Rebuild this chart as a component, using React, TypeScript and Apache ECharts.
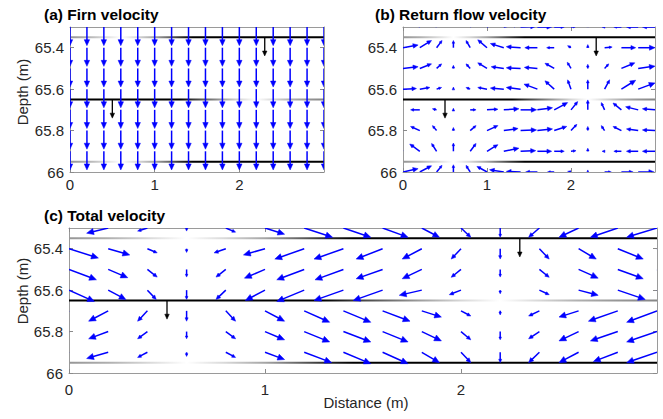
import React, { useEffect, useRef } from "react";
import * as echarts from "echarts";

// ---------- data ----------
const COLS = [0, 0.2, 0.4, 0.6, 0.8, 1.0, 1.2, 1.4, 1.6, 1.8, 2.0, 2.2, 2.4, 2.6, 2.8, 3.0];
const X_TICKS = [0, 1, 2];
const Y_TICKS = [65.4, 65.6, 65.8, 66];

// (a) firn velocity: uniform downward, per row
const DEPTHS_A = [65.3, 65.4, 65.5, 65.6, 65.7, 65.8, 65.9, 66.0];
const FIRN_W = [0.09, 0.09, 0.09, 0.09, 0.09, 0.09, 0.09, 0.09];

// (b) return flow velocity (u: +right, w: +deeper)
const DEPTHS_B = [65.3, 65.4, 65.5, 65.6, 65.7, 65.8, 65.9, 66.0];
const B_U_653 = [-0.15, -0.12, -0.06, 0, 0.07, 0.13, 0.18, 0.18, 0.17, 0.12, 0.06, 0, -0.03, -0.09, -0.14, -0.15];
const B_W_653 = [-0.03, -0.035, -0.038, -0.04, -0.038, -0.032, -0.015, -0.003, 0, 0, -0.003, -0.015, 0, 0, 0, 0];
const B_U_654 = [0.18, 0.14, 0.065, 0, -0.05, -0.11, -0.16, -0.17, -0.15, -0.09, -0.04, 0, 0.09, 0.17, 0.2, 0.2];
const B_W_654 = [-0.013, -0.035, -0.035, -0.035, -0.035, -0.038, -0.02, -0.005, 0, 0, -0.01, -0.015, -0.003, 0, 0, 0];
const B_U_655 = [0.18, 0.14, 0.06, 0, -0.05, -0.11, -0.15, -0.17, -0.155, -0.11, -0.045, 0, 0.05, 0.16, 0.2, 0.2];
const B_W_655 = [-0.008, -0.022, -0.022, -0.015, -0.022, -0.027, -0.008, -0.003, -0.005, -0.025, -0.03, -0.02, -0.022, -0.027, -0.011, -0.005];
const B_U_656 = [0.16, 0.12, 0.06, 0, -0.05, -0.11, -0.16, -0.17, -0.16, -0.11, -0.04, 0, 0.06, 0.17, 0.2, 0.2];
const B_W_656 = [-0.003, -0.008, -0.008, -0.01, -0.008, -0.008, -0.005, -0.008, -0.024, -0.04, -0.045, -0.045, -0.045, -0.043, -0.03, -0.01];
const B_U_657 = [-0.16, -0.11, -0.05, 0, 0.07, 0.13, 0.18, 0.19, 0.18, 0.16, 0.08, 0, -0.04, -0.1, -0.15, -0.15];
const B_W_657 = [-0.005, 0, -0.005, -0.008, 0, -0.003, -0.005, 0, -0.01, -0.035, -0.04, -0.048, -0.035, -0.033, -0.015, -0.005];
const B_U_658 = [-0.16, -0.11, -0.05, 0, 0.07, 0.13, 0.17, 0.19, 0.18, 0.15, 0.07, 0, -0.04, -0.1, -0.14, -0.15];
const B_W_658 = [-0.01, -0.02, -0.024, -0.015, -0.024, -0.024, -0.01, -0.003, -0.008, -0.02, -0.03, -0.02, -0.024, -0.02, -0.008, -0.003];
const B_U_659 = [-0.15, -0.12, -0.06, 0, 0.07, 0.13, 0.18, 0.18, 0.17, 0.12, 0.06, 0, -0.03, -0.09, -0.14, -0.15];
const B_W_659 = [-0.03, -0.035, -0.038, -0.04, -0.038, -0.032, -0.015, -0.003, 0, 0, -0.003, -0.015, 0, 0, 0, 0];
const B_U_660 = [0.18, 0.14, 0.065, 0, -0.05, -0.12, -0.17, -0.17, -0.14, -0.08, -0.04, 0, 0.08, 0.14, 0.19, 0.2];
const B_W_660 = [-0.016, -0.03, -0.032, -0.035, -0.032, -0.027, -0.011, -0.003, 0, 0, -0.003, -0.01, 0, 0, 0, 0];
const B_U = [B_U_653, B_U_654, B_U_655, B_U_656, B_U_657, B_U_658, B_U_659, B_U_660];
const B_W = [B_W_653, B_W_654, B_W_655, B_W_656, B_W_657, B_W_658, B_W_659, B_W_660];

// (c) total velocity
const DEPTHS_C = [65.3, 65.4, 65.5, 65.6, 65.7, 65.8, 65.9];
const C_U_653 = [-0.15, -0.11, -0.05, 0, 0.05, 0.1, 0.145, 0.14, 0.13, 0.09, 0.05, 0, -0.055, -0.1, -0.14, -0.155];
const C_W_653 = [0.045, 0.025, 0.015, 0.015, 0.02, 0.03, 0.045, 0.045, 0.045, 0.045, 0.045, 0.045, 0.045, 0.045, 0.045, 0.045];
const C_U_654 = [0.15, 0.11, 0.05, 0, -0.06, -0.11, -0.15, -0.15, -0.135, -0.1, -0.05, 0, 0.05, 0.09, 0.13, 0.15];
const C_W_654 = [0.045, 0.03, 0.02, 0.018, 0.02, 0.03, 0.05, 0.05, 0.05, 0.05, 0.05, 0.05, 0.05, 0.05, 0.05, 0.05];
const C_U_655 = [0.14, 0.1, 0.05, 0, -0.05, -0.105, -0.14, -0.145, -0.135, -0.1, -0.05, 0, 0.05, 0.1, 0.13, 0.145];
const C_W_655 = [0.05, 0.04, 0.037, 0.037, 0.037, 0.042, 0.05, 0.05, 0.045, 0.045, 0.038, 0.037, 0.038, 0.042, 0.045, 0.05];
const C_U_656 = [0.13, 0.09, 0.045, 0, -0.05, -0.1, -0.14, -0.15, -0.15, -0.115, -0.06, 0, 0.05, 0.1, 0.14, 0.15];
const C_W_656 = [0.055, 0.045, 0.045, 0.045, 0.045, 0.05, 0.055, 0.05, 0.05, 0.025, 0.022, 0.018, 0.022, 0.025, 0.045, 0.05];
const C_U_657 = [-0.13, -0.1, -0.05, 0, 0.05, 0.1, 0.13, 0.14, 0.14, 0.1, 0.05, 0, -0.055, -0.1, -0.15, -0.155];
const C_W_657 = [0.055, 0.05, 0.05, 0.05, 0.05, 0.05, 0.055, 0.055, 0.05, 0.03, 0.025, 0.02, 0.025, 0.03, 0.05, 0.055];
const C_U_658 = [-0.13, -0.1, -0.05, 0, 0.05, 0.1, 0.13, 0.14, 0.13, 0.1, 0.05, 0, -0.055, -0.1, -0.14, -0.155];
const C_W_658 = [0.045, 0.035, 0.035, 0.035, 0.035, 0.04, 0.05, 0.05, 0.05, 0.045, 0.04, 0.04, 0.035, 0.045, 0.045, 0.05];
const C_U_659 = [-0.14, -0.11, -0.05, 0, 0.05, 0.1, 0.14, 0.14, 0.13, 0.09, 0.05, 0, -0.055, -0.1, -0.125, -0.155];
const C_W_659 = [0.045, 0.03, 0.025, 0.02, 0.025, 0.035, 0.05, 0.055, 0.055, 0.05, 0.05, 0.05, 0.05, 0.05, 0.045, 0.05];
const C_U = [C_U_653, C_U_654, C_U_655, C_U_656, C_U_657, C_U_658, C_U_659];
const C_W = [C_W_653, C_W_654, C_W_655, C_W_656, C_W_657, C_W_658, C_W_659];

// layer boundaries and their shading along distance ([x, grey level])
const LAYER_DEPTHS = [65.35, 65.65, 65.95];
const SHADE_OUTER = [[0, 150], [0.2, 175], [0.4, 215], [0.6, 255], [0.8, 215], [1.0, 165], [1.15, 110], [1.3, 50], [1.45, 0], [3, 0]];
const SHADE_MIDDLE = [[0, 0], [1.3, 0], [1.45, 55], [1.6, 100], [1.8, 160], [2.0, 215], [2.2, 255], [2.4, 215], [2.6, 175], [2.8, 150], [3.0, 135]];
const LAYER_SHADES = [SHADE_OUTER, SHADE_MIDDLE, SHADE_OUTER];

// black marker arrows [x, depth, u, w]
const MARKERS = [[2.3, 65.35, 0, 0.09], [0.5, 65.65, 0, 0.09]];

// ---------- helpers ----------
const FONT = "'Liberation Sans', Arial, Helvetica, sans-serif";
const TICK_COLOR = "#262626";

function buildField(depths: number[], U: number[][] | null, W: number[][] | number[]) {
  const out: number[][] = [];
  depths.forEach((d, r) => {
    COLS.forEach((x, c) => {
      const u = U ? U[r][c] : 0;
      const w = Array.isArray((W as any)[r]) ? (W as number[][])[r][c] : (W as number[])[r];
      out.push([x, d, u, w]);
    });
  });
  return out;
}

function arrowRender(color: string, lw: number, maxHead: number) {
  return (params: any, api: any) => {
    const x = api.value(0), y = api.value(1), u = api.value(2), w = api.value(3);
    const p0 = api.coord([x, y]);
    const p1 = api.coord([x + u, y + w]);
    const dx = p1[0] - p0[0], dy = p1[1] - p0[1];
    const L = Math.hypot(dx, dy);
    if (L < 0.3) return null;
    const ux = dx / L, uy = dy / L;
    const hl = Math.min(maxHead, Math.max(2.8, 0.33 * L));
    const hw = hl * 0.45;
    const bx = p1[0] - ux * hl, by = p1[1] - uy * hl;
    const lineEnd = L > hl ? [bx + ux * hl * 0.4, by + uy * hl * 0.4] : [p0[0], p0[1]];
    return {
      type: "group",
      children: [
        {
          type: "line",
          shape: { x1: p0[0], y1: p0[1], x2: lineEnd[0], y2: lineEnd[1] },
          style: { stroke: color, lineWidth: lw },
        },
        {
          type: "polygon",
          shape: { points: [[p1[0], p1[1]], [bx - uy * hw, by + ux * hw], [bx + uy * hw, by - ux * hw]] },
          style: { fill: color, stroke: color, lineWidth: 0.5 },
        },
      ],
    };
  };
}

function layerRender(params: any, api: any) {
  const y = api.value(1);
  const idx = api.value(2);
  const p0 = api.coord([0, y]);
  const p1 = api.coord([3, y]);
  const stops = LAYER_SHADES[idx].map(([x, g]) => ({ offset: x / 3, color: `rgb(${g},${g},${g})` }));
  return {
    type: "rect",
    shape: { x: p0[0], y: p0[1] - 1, width: p1[0] - p0[0], height: 2 },
    style: { fill: new echarts.graphic.LinearGradient(0, 0, 1, 0, stops) },
  };
}

const GRIDS = [
  { left: 70, top: 27, width: 254, height: 145, xLabelMargin: 5 },
  { left: 403, top: 27, width: 252, height: 145, xLabelMargin: 5 },
  { left: 69, top: 228, width: 588, height: 145, xLabelMargin: 9 },
];

export default function App() {
  const ref = useRef<HTMLDivElement>(null);
  useEffect(() => {
    document.body.style.margin = "0";
    if (!ref.current) return;
    const chart = echarts.init(ref.current, undefined, { renderer: "svg" });

    const xAxes: any[] = [];
    const yAxes: any[] = [];
    GRIDS.forEach((g, i) => {
      ["bottom", "top"].forEach((pos) => {
        xAxes.push({
          gridIndex: i,
          type: "value",
          position: pos,
          min: 0,
          max: 3,
          axisLine: { show: true, onZero: false, lineStyle: { color: "#9a9a9a", width: 1 } },
          axisTick: { show: true, inside: true, length: 4, customValues: X_TICKS, lineStyle: { color: "#8a8a8a" } },
          axisLabel: {
            show: pos === "bottom",
            customValues: X_TICKS,
            margin: g.xLabelMargin,
            color: TICK_COLOR,
            fontFamily: FONT,
            fontSize: 15,
          },
          splitLine: { show: false },
        });
      });
      ["left", "right"].forEach((pos) => {
        yAxes.push({
          gridIndex: i,
          type: "value",
          position: pos,
          inverse: true,
          min: 65.3,
          max: 66,
          axisLine: { show: true, onZero: false, lineStyle: { color: "#9a9a9a", width: 1 } },
          axisTick: { show: true, inside: true, length: 4, customValues: Y_TICKS, lineStyle: { color: "#8a8a8a" } },
          axisLabel: {
            show: pos === "left",
            customValues: Y_TICKS,
            margin: 6,
            color: TICK_COLOR,
            fontFamily: FONT,
            fontSize: 15,
            formatter: (v: number) => String(Math.round(v * 10) / 10),
          },
          splitLine: { show: false },
        });
      });
    });

    const fields = [
      buildField(DEPTHS_A, null, FIRN_W),
      buildField(DEPTHS_B, B_U, B_W),
      buildField(DEPTHS_C, C_U, C_W),
    ];
    const layerData = LAYER_DEPTHS.map((d, k) => [0, d, k]);

    const series: any[] = [];
    GRIDS.forEach((g, i) => {
      const axes = { xAxisIndex: 2 * i, yAxisIndex: 2 * i };
      series.push({
        type: "custom",
        ...axes,
        clip: true,
        z: 2,
        data: layerData,
        encode: { x: 0, y: 1 },
        renderItem: layerRender,
        silent: true,
      });
      series.push({
        type: "custom",
        ...axes,
        clip: true,
        z: 3,
        data: fields[i],
        encode: { x: 0, y: 1 },
        renderItem: arrowRender("#0000ff", 1.5, i === 0 ? 6 : 7),
        silent: true,
      });
      series.push({
        type: "custom",
        ...axes,
        clip: true,
        z: 4,
        data: MARKERS,
        encode: { x: 0, y: 1 },
        renderItem: arrowRender("#000000", 1.3, 5),
        silent: true,
      });
    });

    const titleStyle = { fontFamily: FONT, fontSize: 15.5, fontWeight: "bold", fill: "#000" };
    const labelStyle = { fontFamily: FONT, fontSize: 15, fill: TICK_COLOR };

    chart.setOption({
      animation: false,
      backgroundColor: "#ffffff",
      grid: GRIDS.map((g) => ({ left: g.left, top: g.top, width: g.width, height: g.height, containLabel: false })),
      xAxis: xAxes,
      yAxis: yAxes,
      series,
      graphic: [
        { type: "text", left: 44, top: 6, style: { ...titleStyle, text: "(a) Firn velocity" } },
        { type: "text", left: 375, top: 6, style: { ...titleStyle, text: "(b) Return flow velocity" } },
        { type: "text", left: 44, top: 207, style: { ...titleStyle, text: "(c) Total velocity" } },
        {
          type: "text",
          x: 22,
          y: 92,
          rotation: Math.PI / 2,
          style: { ...labelStyle, text: "Depth (m)", align: "center", verticalAlign: "middle" },
        },
        {
          type: "text",
          x: 22,
          y: 291,
          rotation: Math.PI / 2,
          style: { ...labelStyle, text: "Depth (m)", align: "center", verticalAlign: "middle" },
        },
        {
          type: "text",
          x: 366,
          y: 402,
          style: { ...labelStyle, text: "Distance (m)", align: "center", verticalAlign: "middle" },
        },
      ],
    });
    return () => chart.dispose();
  }, []);
  return <div ref={ref} style={{ width: 663, height: 419 }} />;
}
